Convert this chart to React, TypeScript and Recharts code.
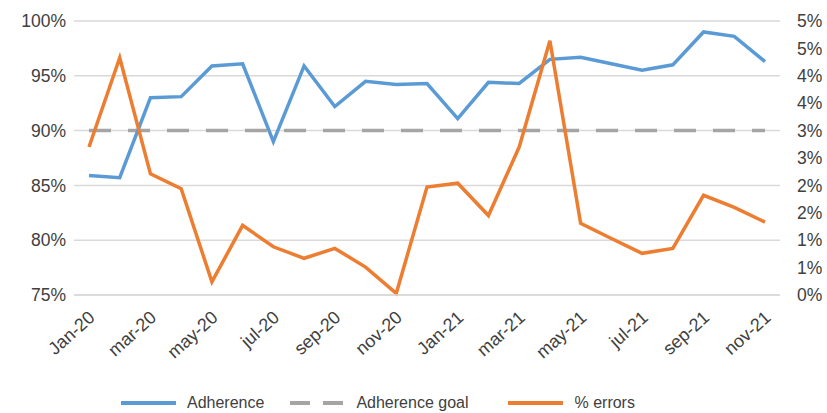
import React from 'react';
import { LineChart, Line, XAxis, YAxis, CartesianGrid } from 'recharts';

const months = [
  'Jan-20', 'feb-20', 'mar-20', 'apr-20', 'may-20', 'jun-20', 'jul-20', 'aug-20',
  'sep-20', 'oct-20', 'nov-20', 'dec-20', 'Jan-21', 'feb-21', 'mar-21', 'apr-21',
  'may-21', 'jun-21', 'jul-21', 'aug-21', 'sep-21', 'oct-21', 'nov-21',
];

const adherence = [
  85.9, 85.7, 93.0, 93.1, 95.9, 96.1, 89.0, 95.9, 92.2, 94.5, 94.2, 94.3,
  91.1, 94.4, 94.3, 96.5, 96.7, 96.1, 95.5, 96.0, 99.0, 98.6, 96.3,
];

const adherenceGoal = [
  90, 90, 90, 90, 90, 90, 90, 90, 90, 90, 90, 90,
  90, 90, 90, 90, 90, 90, 90, 90, 90, 90, 90,
];

const errors = [
  2.7, 4.33, 2.21, 1.94, 0.24, 1.27, 0.88, 0.67, 0.85, 0.51, 0.03, 1.97,
  2.04, 1.45, 2.7, 4.64, 1.31, 1.03, 0.76, 0.85, 1.82, 1.6, 1.33,
];

const leftTicks = [75, 80, 85, 90, 95, 100];
const rightTicks = [0, 0.5, 1, 1.5, 2, 2.5, 3, 3.5, 4, 4.5, 5];

const BLUE = '#5B9BD5';
const ORANGE = '#ED7D31';
const GRAY = '#A5A5A5';
const TEXT = '#404040';
const FONT = '"Liberation Sans", Arial, sans-serif';

const data = months.map((m, i) => ({
  month: m,
  adherence: adherence[i],
  goal: adherenceGoal[i],
  errors: errors[i],
}));

function MonthTick({ x, y, payload }: any) {
  const ax = x + 7;
  const ay = y + 22;
  return (
    <text
      x={ax}
      y={ay}
      textAnchor="end"
      transform={`rotate(-42, ${ax}, ${ay})`}
      fontSize={18}
      fontFamily={FONT}
      fill={TEXT}
    >
      {payload.value}
    </text>
  );
}

function LegendItem({ color, dashed, label, gap }: { color: string; dashed?: boolean; label: string; gap: number }) {
  return (
    <div style={{ display: 'flex', alignItems: 'center', marginRight: gap }}>
      <svg width={55} height={8} style={{ marginRight: 11 }}>
        <line
          x1={0}
          y1={4}
          x2={55}
          y2={4}
          stroke={color}
          strokeWidth={4}
          strokeDasharray={dashed ? '20 13' : undefined}
        />
      </svg>
      <span>{label}</span>
    </div>
  );
}

export default function App() {
  return (
    <div style={{ position: 'absolute', left: 0, top: 0, width: 827, height: 413, background: '#fff', overflow: 'hidden' }}>
      <LineChart width={827} height={413} data={data} margin={{ top: 21, right: 0, left: 0, bottom: 0 }}>
        <CartesianGrid yAxisId="left" vertical={false} stroke="#d9d9d9" strokeWidth={1.5} />
        <XAxis
          dataKey="month"
          height={118}
          interval={1}
          tick={<MonthTick />}
          tickLine={false}
          tickSize={0}
          axisLine={{ stroke: '#d9d9d9', strokeWidth: 1.5 }}
          padding={{ left: 15, right: 15 }}
        />
        <YAxis
          yAxisId="left"
          width={74}
          domain={[75, 100]}
          ticks={leftTicks}
          tickFormatter={(v: number) => `${v}%`}
          axisLine={false}
          tickLine={false}
          tickSize={0}
          tickMargin={8}
          tick={{ fill: TEXT, fontSize: 17.5, fontFamily: FONT }}
        />
        <YAxis
          yAxisId="right"
          orientation="right"
          width={47}
          domain={[0, 5]}
          ticks={rightTicks}
          tickFormatter={(v: number) => `${Math.round(v)}%`}
          axisLine={false}
          tickLine={false}
          tickSize={0}
          tickMargin={17}
          tick={{ fill: TEXT, fontSize: 17.5, fontFamily: FONT, textAnchor: 'start' }}
        />
        <Line
          yAxisId="left"
          type="linear"
          dataKey="goal"
          stroke={GRAY}
          strokeWidth={3.5}
          strokeDasharray="22 17"
          dot={false}
          isAnimationActive={false}
        />
        <Line
          yAxisId="left"
          type="linear"
          dataKey="adherence"
          stroke={BLUE}
          strokeWidth={3.5}
          dot={false}
          isAnimationActive={false}
        />
        <Line
          yAxisId="right"
          type="linear"
          dataKey="errors"
          stroke={ORANGE}
          strokeWidth={3.5}
          dot={false}
          isAnimationActive={false}
        />
      </LineChart>
      <div
        style={{
          position: 'absolute',
          left: 121,
          top: 394,
          display: 'flex',
          alignItems: 'center',
          fontFamily: FONT,
          fontSize: 16,
          color: TEXT,
          lineHeight: '17px',
        }}
      >
        <LegendItem color={BLUE} label="Adherence" gap={26} />
        <LegendItem color={GRAY} dashed label="Adherence goal" gap={40} />
        <LegendItem color={ORANGE} label="% errors" gap={0} />
      </div>
    </div>
  );
}
